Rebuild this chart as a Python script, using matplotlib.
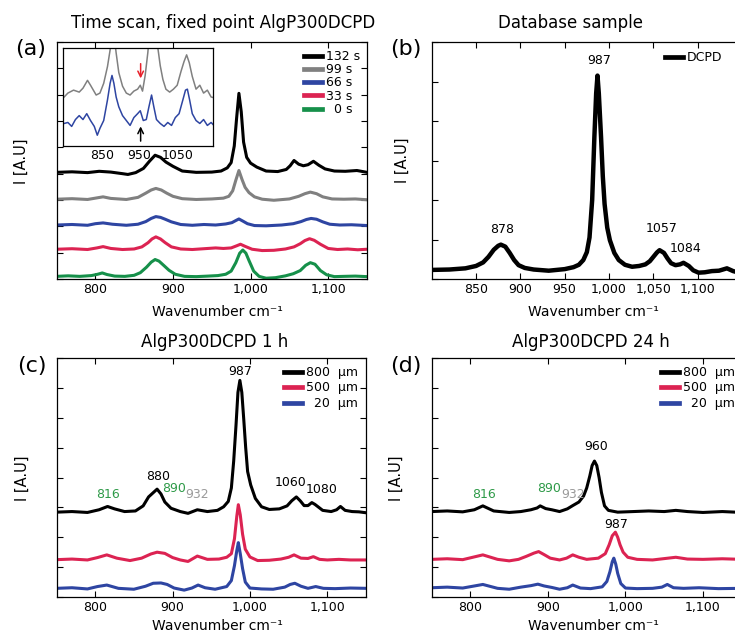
import matplotlib
matplotlib.use("Agg")
import matplotlib.pyplot as plt

plt.rcParams['font.family'] = ['DejaVu Sans']

# ---------------------------------------------------------------- data
# (a) time scan, fixed point AlgP300DCPD (offset traces)
a_wn_132 = [750, 770, 790, 805, 820, 835, 842, 852, 862, 870, 877, 884, 891, 900, 912, 930, 950, 962, 970, 975,
            979, 982, 985, 988, 991, 995, 1000, 1008, 1020, 1035, 1046, 1051, 1056, 1062, 1068, 1074, 1081, 1088,
            1096, 1108, 1122, 1137, 1150]
a_int_132 = [4.05, 4.07, 4.04, 4.09, 4.06, 4.00, 3.97, 4.04, 4.20, 4.48, 4.70, 4.62, 4.44, 4.28, 4.10, 4.05, 4.06,
             4.10, 4.22, 4.42, 5.05, 6.10, 7.05, 6.35, 5.20, 4.62, 4.40, 4.25, 4.10, 4.08, 4.16, 4.30, 4.50, 4.36,
             4.30, 4.34, 4.47, 4.32, 4.18, 4.10, 4.09, 4.12, 4.05]
a_wn_99 = [750, 770, 790, 802, 810, 820, 840, 855, 865, 872, 878, 885, 892, 900, 912, 930, 950, 965, 972, 977,
           981, 985, 989, 993, 998, 1005, 1015, 1030, 1050, 1062, 1070, 1077, 1085, 1093, 1105, 1120, 1135, 1150]
a_int_99 = [3.03, 3.05, 3.02, 3.08, 3.12, 3.06, 3.02, 3.10, 3.26, 3.38, 3.44, 3.38, 3.26, 3.14, 3.05, 3.02, 3.04,
            3.07, 3.14, 3.35, 3.75, 4.12, 3.78, 3.48, 3.28, 3.12, 3.03, 2.99, 3.04, 3.14, 3.24, 3.30, 3.24, 3.12,
            3.04, 3.03, 3.04, 3.01]
a_wn_66 = [750, 770, 790, 800, 810, 822, 840, 855, 865, 872, 878, 884, 890, 898, 910, 925, 940, 955, 968, 976,
           981, 985, 990, 996, 1005, 1020, 1040, 1055, 1065, 1072, 1078, 1085, 1093, 1102, 1115, 1130, 1150]
a_int_66 = [2.05, 2.07, 2.04, 2.10, 2.13, 2.08, 2.04, 2.08, 2.18, 2.30, 2.37, 2.34, 2.27, 2.17, 2.07, 2.04, 2.07,
            2.05, 2.09, 2.14, 2.22, 2.28, 2.20, 2.10, 2.03, 2.02, 2.05, 2.10, 2.18, 2.26, 2.30, 2.27, 2.17, 2.08,
            2.05, 2.06, 2.03]
a_wn_33 = [750, 770, 790, 802, 810, 820, 835, 850, 860, 868, 873, 878, 884, 890, 898, 910, 925, 940, 955, 965,
           975, 982, 987, 993, 1002, 1015, 1030, 1045, 1056, 1064, 1070, 1076, 1082, 1090, 1100, 1112, 1125, 1138,
           1150]
a_int_33 = [1.13, 1.15, 1.12, 1.18, 1.23, 1.16, 1.12, 1.14, 1.22, 1.38, 1.52, 1.60, 1.52, 1.38, 1.22, 1.14, 1.12,
            1.15, 1.18, 1.16, 1.18, 1.26, 1.32, 1.24, 1.13, 1.08, 1.09, 1.14, 1.22, 1.34, 1.46, 1.53, 1.47, 1.32,
            1.16, 1.12, 1.14, 1.11, 1.13]
a_wn_0 = [750, 765, 780, 795, 803, 809, 815, 825, 838, 850, 858, 866, 872, 877, 882, 888, 895, 903, 915, 930,
          945, 958, 968, 975, 981, 986, 990, 994, 998, 1004, 1011, 1020, 1032, 1045, 1055, 1064, 1071, 1077, 1083,
          1090, 1098, 1108, 1120, 1135, 1150]
a_int_0 = [0.10, 0.12, 0.10, 0.13, 0.18, 0.23, 0.17, 0.11, 0.10, 0.14, 0.24, 0.45, 0.64, 0.74, 0.68, 0.52, 0.33,
           0.18, 0.10, 0.09, 0.11, 0.13, 0.18, 0.30, 0.62, 0.98, 1.10, 0.98, 0.70, 0.30, 0.10, 0.03, 0.05, 0.12,
           0.20, 0.32, 0.52, 0.62, 0.56, 0.32, 0.16, 0.09, 0.10, 0.11, 0.09]
a_labels = ['132 s', '99 s', '66 s', '33 s', '\u20070 s']

# (a) inset: enlarged 99 s and 66 s traces
ins_wn_99 = [750, 760, 775, 790, 800, 812, 820, 835, 845, 855, 865, 872, 877, 882, 888, 895, 905, 915, 925, 935,
             945, 952, 958, 965, 972, 978, 985, 992, 998, 1005, 1012, 1020, 1030, 1040, 1050, 1060, 1068, 1075,
             1082, 1090, 1100, 1110, 1120, 1130, 1140, 1150]
ins_int_99 = [0.50, 0.54, 0.57, 0.55, 0.59, 0.67, 0.62, 0.52, 0.54, 0.64, 0.81, 0.98, 1.20, 1.15, 0.95, 0.75,
              0.61, 0.54, 0.52, 0.56, 0.58, 0.62, 0.56, 0.72, 0.95, 1.20, 1.40, 1.20, 1.02, 0.82, 0.68, 0.58,
              0.55, 0.58, 0.62, 0.76, 0.86, 0.93, 0.85, 0.71, 0.58, 0.62, 0.54, 0.57, 0.50, 0.49]
ins_wn_66 = [750, 760, 770, 780, 790, 800, 810, 820, 830, 838, 845, 855, 865, 872, 877, 882, 888, 895, 905, 915,
             925, 935, 945, 952, 960, 968, 975, 982, 988, 995, 1005, 1015, 1025, 1035, 1045, 1055, 1065, 1072,
             1077, 1083, 1090, 1100, 1110, 1120, 1130, 1140, 1150]
ins_int_66 = [0.23, 0.24, 0.20, 0.27, 0.31, 0.27, 0.33, 0.26, 0.20, 0.11, 0.18, 0.26, 0.47, 0.64, 0.72, 0.64,
              0.50, 0.40, 0.31, 0.26, 0.21, 0.29, 0.33, 0.36, 0.26, 0.27, 0.40, 0.52, 0.40, 0.27, 0.23, 0.20,
              0.24, 0.21, 0.29, 0.33, 0.47, 0.57, 0.58, 0.47, 0.33, 0.26, 0.23, 0.27, 0.21, 0.24, 0.20]
ins_ticks = [850, 950, 1050]
ins_arrow_wn = 953

# (b) database DCPD reference spectrum
b_wn = [800, 820, 838, 850, 858, 864, 870, 875, 878, 883, 888, 893, 898, 905, 915, 932, 950, 960, 966, 971, 975,
        978, 981, 983.5, 985.5, 987, 988.5, 991, 993, 995, 998, 1001, 1006, 1011, 1018, 1026, 1034, 1041, 1046,
        1050, 1054, 1057, 1062, 1066, 1070, 1075, 1080, 1084, 1090, 1095, 1101, 1108, 1116, 1124, 1133, 1140, 1150]
b_int = [0.23, 0.24, 0.27, 0.33, 0.42, 0.56, 0.74, 0.84, 0.87, 0.82, 0.66, 0.48, 0.35, 0.28, 0.24, 0.21, 0.25,
         0.30, 0.36, 0.48, 0.68, 1.05, 2.00, 3.60, 4.70, 5.15, 4.70, 3.60, 2.60, 1.90, 1.30, 0.98, 0.66, 0.48,
         0.36, 0.31, 0.33, 0.37, 0.45, 0.56, 0.67, 0.73, 0.66, 0.52, 0.40, 0.35, 0.37, 0.41, 0.33, 0.22, 0.16,
         0.17, 0.20, 0.21, 0.27, 0.20, 0.14]
b_peaks = [878, 987, 1057, 1084]

# (c) AlgP300DCPD 1 h, depth profile
c_wn_800 = [750, 770, 790, 805, 816, 825, 838, 852, 862, 869, 880, 885, 890, 898, 910, 920, 932, 945, 958, 966,
            972, 976, 979, 982, 984.5, 987, 989.5, 992, 994.5, 997, 1001, 1007, 1015, 1025, 1038, 1048, 1054,
            1060, 1065, 1070, 1075, 1080, 1084, 1088, 1094, 1105, 1112, 1117, 1123, 1132, 1141, 1150]
c_int_800 = [2.84, 2.86, 2.83, 2.92, 3.03, 2.95, 2.86, 2.88, 3.05, 3.35, 3.61, 3.45, 3.18, 2.97, 2.86, 2.80, 2.92,
             2.86, 2.90, 3.02, 3.20, 3.65, 4.55, 5.75, 6.85, 7.25, 6.85, 5.95, 5.00, 4.20, 3.75, 3.30, 3.02,
             2.93, 2.95, 3.05, 3.22, 3.35, 3.22, 3.06, 3.06, 3.16, 3.10, 3.02, 2.90, 2.86, 2.92, 3.03, 2.90,
             2.86, 2.85, 2.82]
c_wn_500 = [750, 770, 790, 803, 815, 828, 845, 860, 872, 880, 890, 900, 910, 920, 932, 945, 960, 970, 976, 980,
            983, 985, 987.5, 990.5, 994, 1000, 1010, 1025, 1040, 1050, 1057, 1066, 1075, 1082, 1090, 1100, 1115,
            1130, 1150]
c_int_500 = [1.25, 1.27, 1.24, 1.32, 1.41, 1.30, 1.22, 1.30, 1.44, 1.50, 1.46, 1.32, 1.24, 1.19, 1.37, 1.26,
             1.27, 1.33, 1.45, 1.95, 2.70, 3.09, 2.75, 2.10, 1.60, 1.34, 1.22, 1.23, 1.27, 1.33, 1.41, 1.30,
             1.29, 1.35, 1.26, 1.24, 1.26, 1.24, 1.24]
c_wn_20 = [750, 770, 790, 803, 815, 830, 850, 865, 875, 885, 893, 902, 915, 925, 933, 942, 955, 970, 976, 980,
           983, 985, 987.5, 990.5, 994, 1000, 1015, 1030, 1045, 1052, 1058, 1066, 1075, 1085, 1095, 1110, 1130, 1150]
c_int_20 = [0.29, 0.31, 0.27, 0.35, 0.40, 0.29, 0.26, 0.36, 0.46, 0.47, 0.42, 0.30, 0.23, 0.30, 0.40, 0.31, 0.26,
            0.35, 0.55, 1.05, 1.55, 1.82, 1.45, 0.95, 0.50, 0.30, 0.27, 0.26, 0.33, 0.42, 0.46, 0.36, 0.29, 0.35,
            0.29, 0.28, 0.30, 0.29]
c_peaks_black = [987, 880, 1060, 1080]
c_peaks_green = [816, 890]
c_peaks_gray = [932]

# (d) AlgP300DCPD 24 h, depth profile
d_wn_800 = [750, 770, 790, 805, 816, 830, 850, 865, 878, 886, 890, 897, 905, 915, 925, 932, 940, 946, 950, 954,
            957, 960, 963, 966, 969, 973, 978, 990, 1010, 1030, 1050, 1065, 1080, 1100, 1125, 1150]
d_int_800 = [2.86, 2.88, 2.85, 2.92, 3.05, 2.88, 2.83, 2.86, 2.92, 2.98, 3.05, 2.96, 2.92, 2.86, 2.95, 3.06, 3.18,
             3.38, 3.65, 4.05, 4.40, 4.55, 4.40, 4.00, 3.50, 3.05, 2.90, 2.84, 2.86, 2.88, 2.86, 2.90, 2.86, 2.83,
             2.86, 2.83]
d_wn_500 = [750, 770, 790, 803, 816, 835, 850, 862, 872, 882, 888, 895, 903, 915, 924, 932, 940, 950, 965, 974,
            979, 983, 987, 990, 993, 997, 1003, 1015, 1035, 1055, 1065, 1080, 1100, 1125, 1150]
d_int_500 = [1.26, 1.28, 1.25, 1.33, 1.41, 1.26, 1.21, 1.26, 1.36, 1.47, 1.52, 1.42, 1.30, 1.24, 1.30, 1.41, 1.33,
             1.26, 1.30, 1.45, 1.75, 2.05, 2.17, 2.00, 1.75, 1.50, 1.33, 1.26, 1.24, 1.30, 1.33, 1.27, 1.26, 1.28,
             1.26]
d_wn_20 = [750, 770, 790, 803, 816, 835, 850, 865, 878, 887, 895, 905, 915, 925, 932, 942, 955, 970, 976, 980,
           983, 985, 987.5, 990, 994, 1000, 1015, 1035, 1047, 1054, 1062, 1075, 1095, 1120, 1150]
d_int_20 = [0.31, 0.33, 0.30, 0.36, 0.42, 0.29, 0.26, 0.33, 0.38, 0.43, 0.37, 0.32, 0.26, 0.31, 0.40, 0.30, 0.28,
            0.34, 0.52, 0.85, 1.18, 1.30, 1.10, 0.79, 0.45, 0.30, 0.28, 0.29, 0.33, 0.42, 0.31, 0.29, 0.31, 0.28,
            0.29]
d_peaks_black = [960]
d_peaks_red = [987]
d_peaks_green = [816, 890]
d_peaks_gray = [932]
depth_labels = ['800  \u00b5m', '500  \u00b5m', '\u200720  \u00b5m']

x_ticks_main = [800, 900, 1000, 1100]
x_ticks_b = [850, 900, 950, 1000, 1050, 1100]

# ---------------------------------------------------------------- style
BLACK = '#000000'
GRAY = '#808080'
BLUE = '#2e45a2'
RED = '#dc2352'
GREEN = '#16904a'
TXT_GREEN = '#2e9a48'
TXT_GRAY = '#9a9a9a'

W, H = 735, 636
fig = plt.figure(figsize=(W / 100, H / 100), dpi=100)
fig.patch.set_facecolor('white')


def rect(left, top, right, bottom):
    return [left / W, 1 - bottom / H, (right - left) / W, (bottom - top) / H]


def fpos(x, y):
    return x / W, 1 - y / H


def thousands(v):
    return f'{v:,}'


def style_axes(ax, xlim, ylim, xticks, ny):
    ax.set_xlim(*xlim)
    ax.set_ylim(*ylim)
    ax.set_xticks(xticks)
    ax.set_xticklabels([thousands(t) for t in xticks])
    ax.set_yticks(range(ny + 1))
    ax.set_yticklabels([])
    ax.tick_params(direction='in', length=4, width=0.8, top=True, right=True,
                   labelsize=9, pad=3, colors='black')
    for s in ax.spines.values():
        s.set_linewidth(0.9)


def legend(ax, anchor, spacing):
    leg = ax.legend(loc='upper left', bbox_to_anchor=fpos(*anchor), bbox_transform=fig.transFigure,
                    frameon=False, fontsize=9, handlelength=1.45, handletextpad=0.3,
                    labelspacing=spacing, borderpad=0, borderaxespad=0)
    for h in leg.get_lines():
        h.set_linewidth(3.4)
    return leg


# ---------------------------------------------------------------- (a)
ax_a = fig.add_axes(rect(56.5, 42, 367, 279))
lw_a = 2.2
ax_a.plot(a_wn_132, a_int_132, color=BLACK, lw=lw_a, label=a_labels[0])
ax_a.plot(a_wn_99, a_int_99, color=GRAY, lw=lw_a, label=a_labels[1])
ax_a.plot(a_wn_66, a_int_66, color=BLUE, lw=lw_a, label=a_labels[2])
ax_a.plot(a_wn_33, a_int_33, color=RED, lw=lw_a, label=a_labels[3])
ax_a.plot(a_wn_0, a_int_0, color=GREEN, lw=lw_a, label=a_labels[4])
style_axes(ax_a, (750, 1150), (0, 9), x_ticks_main, 9)
legend(ax_a, (304, 50), 0.02)

ax_in = fig.add_axes(rect(63, 48, 213, 146))
ax_in.plot(ins_wn_99, ins_int_99, color=GRAY, lw=1.1)
ax_in.plot(ins_wn_66, ins_int_66, color=BLUE, lw=1.1)
ax_in.set_xlim(747, 1145)
ax_in.set_ylim(0, 1)
ax_in.set_xticks(ins_ticks)
ax_in.set_yticks([])
ax_in.tick_params(length=0, labelsize=9, pad=2)
for s in ax_in.spines.values():
    s.set_linewidth(0.9)
ax_in.annotate('', xy=(ins_arrow_wn, 0.69), xytext=(ins_arrow_wn, 0.84),
               arrowprops=dict(arrowstyle='->', color='#e8202a', lw=1.1, shrinkA=0, shrinkB=0))
ax_in.annotate('', xy=(ins_arrow_wn, 0.20), xytext=(ins_arrow_wn, 0.05),
               arrowprops=dict(arrowstyle='->', color='black', lw=1.1, shrinkA=0, shrinkB=0))

# ---------------------------------------------------------------- (b)
ax_b = fig.add_axes(rect(431.7, 42, 742, 279))
ax_b.plot(b_wn, b_int, color=BLACK, lw=3.2, solid_joinstyle='round', label='DCPD')
style_axes(ax_b, (800, 1150), (0, 6), x_ticks_b, 6)
legend(ax_b, (665, 51), 0.0)
b_text_pos = [(879.5, 1.26), (988.5, 5.52), (1059.5, 1.27), (1086, 0.76)]
for pk, (tx, ty) in zip(b_peaks, b_text_pos):
    ax_b.text(tx, ty, str(pk), ha='center', va='center', fontsize=9)

# ---------------------------------------------------------------- (c)
ax_c = fig.add_axes(rect(56.5, 358, 366, 597))
lw_cd = 2.2
ax_c.plot(c_wn_800, c_int_800, color=BLACK, lw=lw_cd, label=depth_labels[0])
ax_c.plot(c_wn_500, c_int_500, color=RED, lw=lw_cd, label=depth_labels[1])
ax_c.plot(c_wn_20, c_int_20, color=BLUE, lw=lw_cd, label=depth_labels[2])
style_axes(ax_c, (750, 1150), (0, 8), x_ticks_main, 8)
legend(ax_c, (284, 366), 0.2)
c_black_pos = [(987.5, 7.55), (881, 4.04), (1052, 3.84), (1092, 3.60)]
for pk, (tx, ty) in zip(c_peaks_black, c_black_pos):
    ax_c.text(tx, ty, str(pk), ha='center', va='center', fontsize=9, color='black')
for pk, (tx, ty) in zip(c_peaks_green, [(817, 3.43), (901.5, 3.63)]):
    ax_c.text(tx, ty, str(pk), ha='center', va='center', fontsize=9, color=TXT_GREEN)
for pk, (tx, ty) in zip(c_peaks_gray, [(931.5, 3.42)]):
    ax_c.text(tx, ty, str(pk), ha='center', va='center', fontsize=9, color=TXT_GRAY)

# ---------------------------------------------------------------- (d)
ax_d = fig.add_axes(rect(431.7, 358, 741.7, 597))
ax_d.plot(d_wn_800, d_int_800, color=BLACK, lw=lw_cd, label=depth_labels[0])
ax_d.plot(d_wn_500, d_int_500, color=RED, lw=lw_cd, label=depth_labels[1])
ax_d.plot(d_wn_20, d_int_20, color=BLUE, lw=lw_cd, label=depth_labels[2])
style_axes(ax_d, (750, 1150), (0, 8), x_ticks_main, 8)
legend(ax_d, (661, 366), 0.2)
for pk, (tx, ty) in zip(d_peaks_black, [(962, 5.03)]):
    ax_d.text(tx, ty, str(pk), ha='center', va='center', fontsize=9, color='black')
for pk, (tx, ty) in zip(d_peaks_red, [(988, 2.42)]):
    ax_d.text(tx, ty, str(pk), ha='center', va='center', fontsize=9, color='black')
for pk, (tx, ty) in zip(d_peaks_green, [(817.5, 3.43), (901.5, 3.63)]):
    ax_d.text(tx, ty, str(pk), ha='center', va='center', fontsize=9, color=TXT_GREEN)
for pk, (tx, ty) in zip(d_peaks_gray, [(932, 3.43)]):
    ax_d.text(tx, ty, str(pk), ha='center', va='center', fontsize=9, color=TXT_GRAY)

# ---------------------------------------------------------------- titles and labels
titles = [('Time scan, fixed point AlgP300DCPD', 223, 28), ('Database sample', 570, 28),
          ('AlgP300DCPD 1 h', 215, 347), ('AlgP300DCPD 24 h', 591, 347)]
for txt, x, y in titles:
    fig.text(*fpos(x, y), txt, ha='center', va='baseline', fontsize=12)

letters = [('(a)', 31, 49), ('(b)', 406, 49), ('(c)', 32, 366), ('(d)', 406, 366)]
for txt, x, y in letters:
    fig.text(*fpos(x, y), txt, ha='center', va='center', fontsize=16)

xlabel = 'Wavenumber cm\u207b\u00b9'
for x, y in [(217, 312), (593, 312), (217, 626), (593, 626)]:
    fig.text(*fpos(x, y), xlabel, ha='center', va='center', fontsize=10)

for x, y in [(21, 161), (402.5, 160), (22, 478), (396, 478)]:
    fig.text(*fpos(x, y), 'I [A.U]', ha='center', va='center', rotation=90, fontsize=10.5)

fig.savefig('out.png', dpi=100, facecolor='white')
